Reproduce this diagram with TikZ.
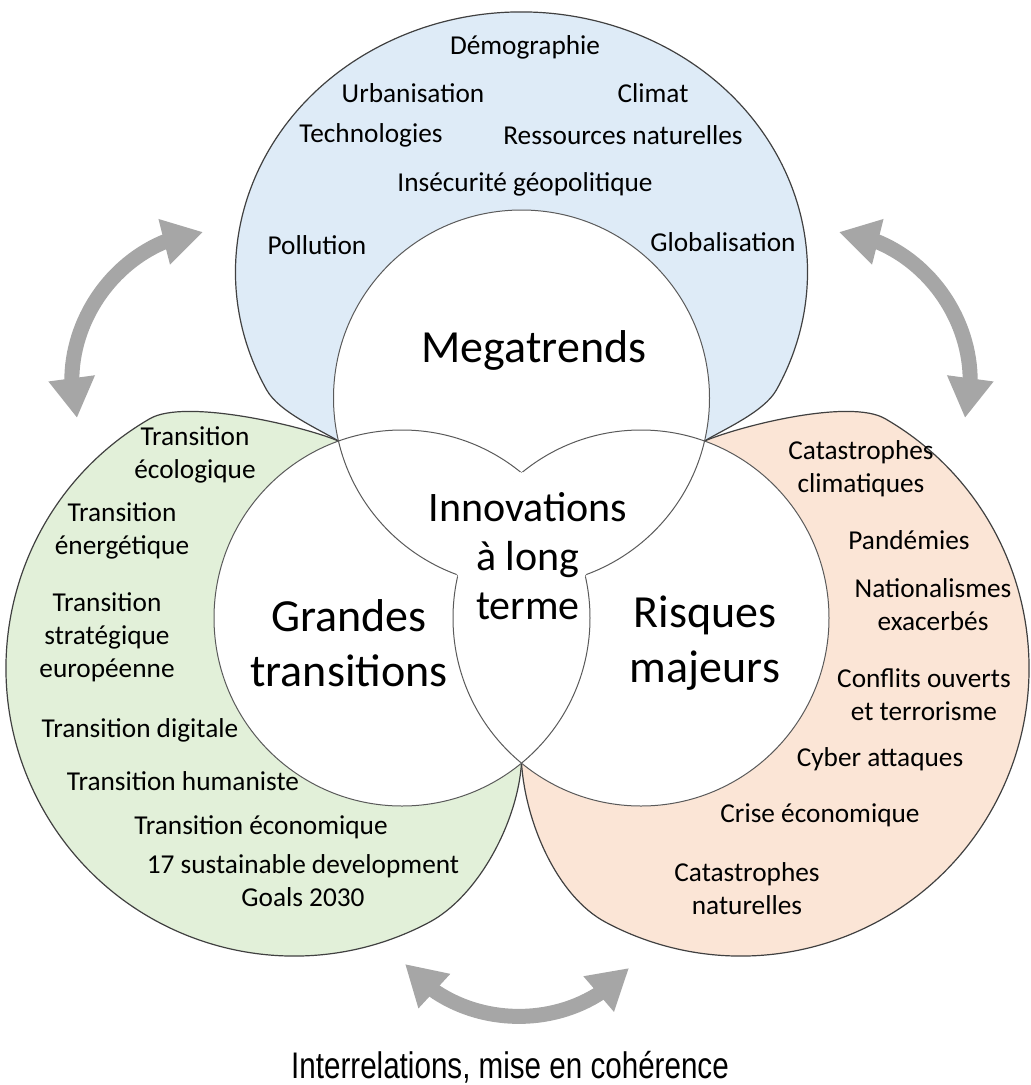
\documentclass[tikz,border=0pt]{standalone}
\usepackage{fontspec}
\setmainfont{Carlito}
\newfontfamily\narrowfont[FakeStretch=0.8]{Liberation Sans}
\usepackage{tikz}
\usetikzlibrary{arrows.meta,bending}
\definecolor{BlueFill}{HTML}{DEEBF7}
\definecolor{GreenFill}{HTML}{E2F0D9}
\definecolor{OrangeFill}{HTML}{FBE5D6}
\definecolor{Rim}{HTML}{404040}
\definecolor{InnerRim}{HTML}{5A5A5A}
\definecolor{ArrowGray}{HTML}{A6A6A6}
\tikzset{
  trend/.style={align=center, font=\fontsize{27.3}{33}\selectfont},
  heading/.style={align=center, font=\fontsize{46}{55}\selectfont},
  rim/.style={draw=Rim, line width=1.2pt},
  swing/.style={draw=ArrowGray, line width=15pt, {Triangle[length=40pt,width=44pt]}-{Triangle[length=40pt,width=44pt]}},
}

\begin{document}
\begin{tikzpicture}[x=1pt,y=1pt]
      \useasboundingbox (0,0) rectangle (1031,-1085);
      \coordinate (T) at (521.5,-398);
      \coordinate (L) at (402,-618);
      \coordinate (R) at (641,-618);
      \coordinate (jl) at (338.5,-441);
      \coordinate (jr) at (704.5,-441);
      \coordinate (jb) at (521.5,-763.1);
      \filldraw[fill=BlueFill, rim] (jl) .. controls (318.5,-429) and (278.9,-411.8) .. (266.7,-390)
        arc[start angle=207, end angle=-27, x radius=286, y radius=260]
        .. controls (764.1,-411.8) and (724.5,-429) .. (jr) -- cycle;
      \filldraw[fill=GreenFill, rim] (jl) .. controls (300,-425) and (184.6,-398.6) .. (150,-418.6)
        arc[start angle=120, end angle=298, radius=288]
        .. controls (477.8,-896.5) and (517.5,-823) .. (jb) -- cycle;
      \filldraw[fill=OrangeFill, rim] (jr) .. controls (743,-425) and (850.4,-398.6) .. (885,-418.6)
        arc[start angle=60, end angle=-118, radius=288]
        .. controls (557.2,-896.5) and (525.5,-823) .. (jb) -- cycle;
      \fill[white] (T) circle (188) (L) circle (188) (R) circle (188);
      \draw[InnerRim, line width=1pt] (T) circle (188) (L) circle (188) (R) circle (188);
      \begin{scope}
        \clip (L) circle (188); \clip (R) circle (188);
        \draw[white, line width=3pt] (T) circle (188);
      \end{scope}
      \begin{scope}
        \clip (T) circle (188); \clip (R) circle (188);
        \draw[white, line width=3pt] (L) circle (188);
      \end{scope}
      \begin{scope}
        \clip (T) circle (188); \clip (L) circle (188);
        \draw[white, line width=3pt] (R) circle (188);
      \end{scope}
      \node[trend] (demo) at (525,-47) {Démographie};
      \node[trend] (urba) at (413,-93) {Urbanisation};
      \node[trend] (clim) at (653,-93) {Climat};
      \node[trend] (tech) at (371,-135) {Technologies};
      \node[trend] (ress) at (623,-135) {Ressources naturelles};
      \node[trend] (insec) at (525,-184) {Insécurité géopolitique};
      \node[trend] (poll) at (317,-245) {Pollution};
      \node[trend] (glob) at (723,-242) {Globalisation};
      \node[heading] (mega) at (534,-350) {Megatrends};
      \node[trend] (eco) at (195,-455) {Transition\\écologique};
      \node[trend] (ener) at (122,-531) {Transition\\énergétique};
      \node[trend] (strat) at (107,-637) {Transition\\stratégique\\européenne};
      \node[trend] (digi) at (140,-730) {Transition digitale};
      \node[trend] (huma) at (183,-781) {Transition humaniste};
      \node[trend] (econ) at (261,-827) {Transition économique};
      \node[trend] (sdg) at (303,-881) {17 sustainable development\\Goals 2030};
      \node[heading] (grand) at (349,-643) {Grandes\\transitions};
      \node[trend] (catc) at (861,-469) {Catastrophes\\climatiques};
      \node[trend] (pand) at (909,-540) {Pandémies};
      \node[trend] (nati) at (933,-605) {Nationalismes\\exacerbés};
      \node[trend] (conf) at (924,-695) {Conflits ouverts\\et terrorisme};
      \node[trend] (cyber) at (880,-759) {Cyber attaques};
      \node[trend] (crise) at (820,-815) {Crise économique};
      \node[trend] (catn) at (747,-889) {Catastrophes\\naturelles};
      \node[heading] (risk) at (705,-643) {Risques\\majeurs};
      \node[align=center, font=\fontsize{42}{49}\selectfont] (inno) at (528,-556) {Innovations\\à long\\terme};
      \coordinate (tl-a) at (203,-232);
      \coordinate (tl-b) at (77,-418);
      \coordinate (tr-a) at (839,-232);
      \coordinate (tr-b) at (965,-418);
      \coordinate (bt-a) at (405,-964);
      \coordinate (bt-b) at (629,-968);
      \draw[swing] (tl-a) to[bend right=50] (tl-b);
      \draw[swing] (tr-a) to[bend left=50] (tr-b);
      \draw[swing] (bt-a) to[bend right=50] (bt-b);
      \node[font=\narrowfont\fontsize{37}{44}\selectfont, anchor=base] (link) at (510,-1078) {Interrelations, mise en cohérence};
    \end{tikzpicture}
\end{document}
